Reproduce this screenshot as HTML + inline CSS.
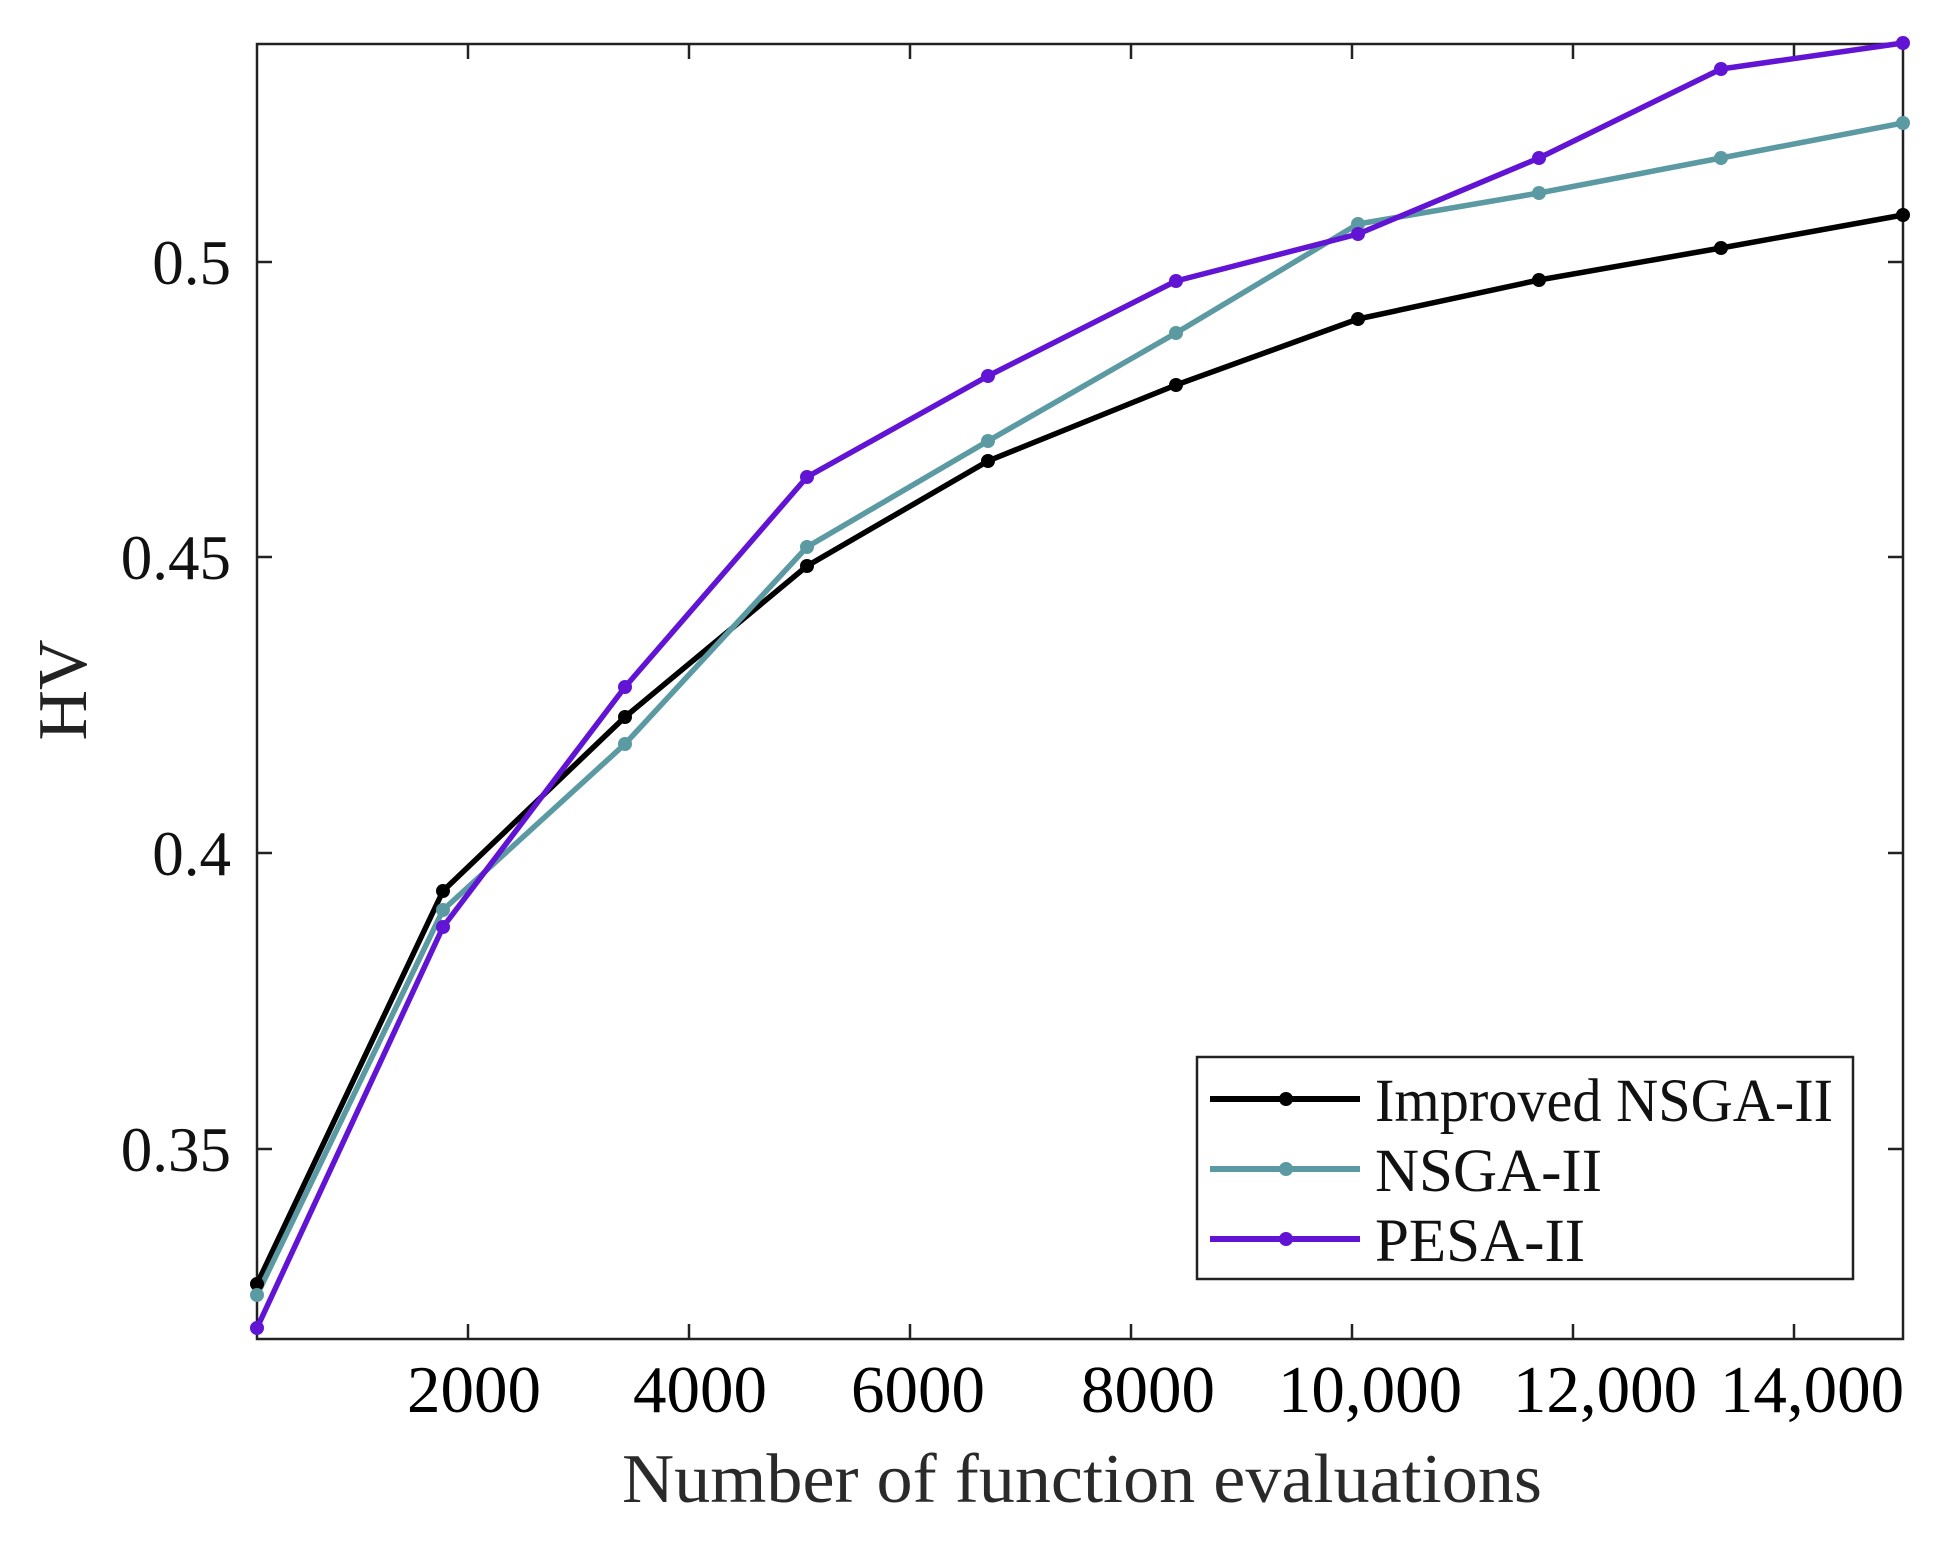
<!DOCTYPE html>
<html><head><meta charset="utf-8"><style>html,body{margin:0;padding:0;background:#fff}svg{display:block}</style></head>
<body>
<svg width="1941" height="1548" viewBox="0 0 1941 1548" xmlns="http://www.w3.org/2000/svg" font-family="'Liberation Serif', serif">
<rect width="1941" height="1548" fill="#fff"/>
<rect x="257" y="44" width="1646" height="1295" fill="none" stroke="#222" stroke-width="2.5"/>
<g stroke="#222" stroke-width="2.5">
<line x1="257" y1="262" x2="272" y2="262"/><line x1="1903" y1="262" x2="1888" y2="262"/>
<line x1="257" y1="557" x2="272" y2="557"/><line x1="1903" y1="557" x2="1888" y2="557"/>
<line x1="257" y1="853" x2="272" y2="853"/><line x1="1903" y1="853" x2="1888" y2="853"/>
<line x1="257" y1="1149" x2="272" y2="1149"/><line x1="1903" y1="1149" x2="1888" y2="1149"/>
<line x1="468" y1="1339" x2="468" y2="1324"/><line x1="468" y1="44" x2="468" y2="59"/>
<line x1="689" y1="1339" x2="689" y2="1324"/><line x1="689" y1="44" x2="689" y2="59"/>
<line x1="910" y1="1339" x2="910" y2="1324"/><line x1="910" y1="44" x2="910" y2="59"/>
<line x1="1131" y1="1339" x2="1131" y2="1324"/><line x1="1131" y1="44" x2="1131" y2="59"/>
<line x1="1352" y1="1339" x2="1352" y2="1324"/><line x1="1352" y1="44" x2="1352" y2="59"/>
<line x1="1573" y1="1339" x2="1573" y2="1324"/><line x1="1573" y1="44" x2="1573" y2="59"/>
<line x1="1794" y1="1339" x2="1794" y2="1324"/><line x1="1794" y1="44" x2="1794" y2="59"/>
</g>
<g font-size="63" text-anchor="end" fill="#111">
<text x="231" y="284">0.5</text>
<text x="231" y="579">0.45</text>
<text x="231" y="875">0.4</text>
<text x="231" y="1171">0.35</text>
</g>
<g font-size="67" text-anchor="middle" fill="#000">
<text x="474" y="1412">2000</text>
<text x="700" y="1412">4000</text>
<text x="918" y="1412">6000</text>
<text x="1148" y="1412">8000</text>
<text x="1370" y="1412">10,000</text>
<text x="1605" y="1412">12,000</text>
<text x="1812" y="1412">14,000</text>
</g>
<text x="622" y="1502" font-size="70" fill="#2a2a2a" textLength="920" lengthAdjust="spacingAndGlyphs">Number of function evaluations</text>
<text transform="translate(86,690) rotate(-90)" font-size="70" text-anchor="middle" fill="#222">HV</text>
<g fill="none" stroke-width="5.5" stroke-linejoin="round">
<polyline stroke="#000" points="257,1284 443,891 625,717 807,566 988,461 1176,385 1358,319 1539,280 1721,248 1903,215"/>
<polyline stroke="#5b9aa2" points="257,1295 443,910 625,744 807,547 988,441 1176,333 1358,224 1539,193 1721,158 1903,123"/>
<polyline stroke="#6214d4" points="257,1328 443,927 625,687 807,477 988,376 1176,281 1358,234 1539,158 1721,69 1903,43"/>
</g>
<g fill="#000"><circle cx="257" cy="1284" r="7"/><circle cx="443" cy="891" r="7"/><circle cx="625" cy="717" r="7"/><circle cx="807" cy="566" r="7"/><circle cx="988" cy="461" r="7"/><circle cx="1176" cy="385" r="7"/><circle cx="1358" cy="319" r="7"/><circle cx="1539" cy="280" r="7"/><circle cx="1721" cy="248" r="7"/><circle cx="1903" cy="215" r="7"/></g>
<g fill="#5b9aa2"><circle cx="257" cy="1295" r="7"/><circle cx="443" cy="910" r="7"/><circle cx="625" cy="744" r="7"/><circle cx="807" cy="547" r="7"/><circle cx="988" cy="441" r="7"/><circle cx="1176" cy="333" r="7"/><circle cx="1358" cy="224" r="7"/><circle cx="1539" cy="193" r="7"/><circle cx="1721" cy="158" r="7"/><circle cx="1903" cy="123" r="7"/></g>
<g fill="#6214d4"><circle cx="257" cy="1328" r="7"/><circle cx="443" cy="927" r="7"/><circle cx="625" cy="687" r="7"/><circle cx="807" cy="477" r="7"/><circle cx="988" cy="376" r="7"/><circle cx="1176" cy="281" r="7"/><circle cx="1358" cy="234" r="7"/><circle cx="1539" cy="158" r="7"/><circle cx="1721" cy="69" r="7"/><circle cx="1903" cy="43" r="7"/></g>
<rect x="1197" y="1057" width="656" height="222" fill="#fff" stroke="#222" stroke-width="2.5"/>
<g stroke-width="6">
<line x1="1210" y1="1099" x2="1360" y2="1099" stroke="#000"/>
<line x1="1210" y1="1169" x2="1360" y2="1169" stroke="#5b9aa2"/>
<line x1="1210" y1="1239" x2="1360" y2="1239" stroke="#6214d4"/>
</g>
<circle cx="1286" cy="1099" r="7" fill="#000"/>
<circle cx="1286" cy="1169" r="7" fill="#5b9aa2"/>
<circle cx="1286" cy="1239" r="7" fill="#6214d4"/>
<g font-size="61" fill="#111">
<text x="1375" y="1121" textLength="458" lengthAdjust="spacingAndGlyphs">Improved NSGA-II</text>
<text x="1375" y="1191">NSGA-II</text>
<text x="1375" y="1261">PESA-II</text>
</g>
</svg>
</body></html>
